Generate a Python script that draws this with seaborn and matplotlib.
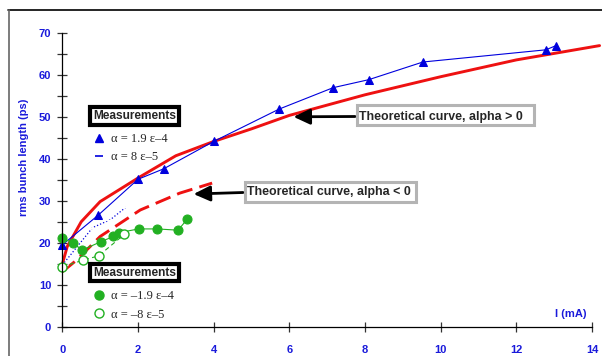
import matplotlib
matplotlib.use("Agg")
import matplotlib.pyplot as plt
from matplotlib.lines import Line2D
from matplotlib.patches import Rectangle
import seaborn as sns
import numpy as np

# ---- data ----
blue_tri_x = [0.0, 0.94, 2.0, 2.68, 4.0, 5.73, 7.16, 8.1, 9.53, 12.78, 13.05]
blue_tri_y = [19.6, 26.6, 35.2, 37.7, 44.2, 51.9, 57.0, 58.9, 63.1, 66.0, 67.0]

blue_dash_x = [0.0, 0.8, 1.27, 1.7]
blue_dash_y = [14.8, 23.7, 25.6, 28.7]

green_fill_x = [0.0, 0.28, 0.53, 1.03, 1.35, 1.49, 2.02, 2.5, 3.06, 3.3]
green_fill_y = [21.3, 20.0, 18.4, 20.4, 21.6, 22.5, 23.4, 23.4, 23.1, 25.7]

green_open_x = [0.0, 0.56, 0.96, 1.64]
green_open_y = [14.4, 16.0, 17.0, 22.1]

theory_pos_x = [0.0, 0.13, 0.5, 1.0, 2.0, 3.0, 4.0, 5.0, 6.0, 8.0, 10.0, 12.0, 14.2]
theory_pos_y = [15.0, 19.2, 25.1, 29.9, 35.5, 40.8, 44.2, 47.2, 50.4, 55.3, 59.6, 63.6, 67.0]

theory_neg_x = [0.0, 0.38, 1.0, 2.06, 3.1, 3.96]
theory_neg_y = [13.2, 16.0, 21.6, 27.9, 31.9, 34.3]

x_ticks = [0, 2, 4, 6, 8, 10, 12, 14]
y_ticks = [0, 10, 20, 30, 40, 50, 60, 70]

labels_pos = ["\u03b1 = 1.9 \u03b5\u20134", "\u03b1 = 8 \u03b5\u20135"]
labels_neg = ["\u03b1 = \u20131.9 \u03b5\u20134", "\u03b1 = \u20138 \u03b5\u20135"]
legend_title = "Measurements"
note_pos = "Theoretical curve, alpha > 0"
note_neg = "Theoretical curve, alpha < 0"

BLUE = "#0000dd"
RED = "#ee1111"
GREEN = "#22b022"
LBLUE = "#1a1adb"

sns.set_style("white")
plt.rcParams["font.family"] = ["Liberation Sans", "DejaVu Sans"]

W, H = 602, 356
fig = plt.figure(figsize=(W / 100, H / 100), dpi=100)
x0, x1 = 62.3, 592.0
y0, y1 = 327.3, 33.0
ax = fig.add_axes([x0 / W, 1 - y0 / H, (x1 - x0) / W, (y0 - y1) / H])


def fx(px):
    return px / W


def fy(py):
    return 1 - py / H


# theoretical curves
sns.lineplot(x=theory_pos_x, y=theory_pos_y, ax=ax, color=RED, lw=2.1,
             estimator=None, sort=False, clip_on=False)
sns.lineplot(x=theory_neg_x, y=theory_neg_y, ax=ax, color=RED, lw=2.1,
             estimator=None, sort=False, clip_on=False)
ax.lines[-1].set_dashes((5.5, 2.5))

# measurements
sns.lineplot(x=blue_tri_x, y=blue_tri_y, ax=ax, color=BLUE, lw=0.8,
             marker="^", markersize=5.8, markeredgecolor=BLUE,
             estimator=None, sort=False, clip_on=False)
sns.lineplot(x=blue_dash_x, y=blue_dash_y, ax=ax, color=BLUE, lw=0.9,
             marker="_", markersize=8, markeredgewidth=1.0,
             estimator=None, sort=False, clip_on=False)
ax.lines[-1].set_linestyle(":")
sns.lineplot(x=green_fill_x, y=green_fill_y, ax=ax, color=GREEN, lw=0.8,
             marker="o", markersize=6.5, markeredgecolor=GREEN,
             estimator=None, sort=False, clip_on=False)
sns.lineplot(x=green_open_x, y=green_open_y, ax=ax, color=GREEN, lw=0.8,
             marker="o", markersize=6.5, markeredgecolor=GREEN,
             markerfacecolor="white", markeredgewidth=1.0,
             estimator=None, sort=False, clip_on=False)
ax.lines[-1].set_dashes((4, 3))

ax.set_xlim(0, 14)
ax.set_ylim(0, 70)
for s in ["top", "right"]:
    ax.spines[s].set_visible(False)
for s in ["left", "bottom"]:
    ax.spines[s].set_color("black")
    ax.spines[s].set_linewidth(0.9)

ax.set_xticks(x_ticks)
ax.set_yticks(y_ticks)
ax.set_yticks(np.arange(5, 70, 10), minor=True)
ax.tick_params(axis="both", which="both", direction="inout", color="#333333",
               width=0.9, labelcolor=LBLUE, labelsize=8, bottom=True, left=True)
ax.tick_params(axis="both", which="major", length=7)
ax.tick_params(axis="y", which="minor", length=7)
ax.tick_params(axis="x", pad=9)
ax.tick_params(axis="y", pad=4.5)
for t in ax.get_xticklabels() + ax.get_yticklabels():
    t.set_fontweight("bold")

ax.set_ylabel("rms bunch length (ps)", color=LBLUE, fontsize=8, fontweight="bold")
ax.yaxis.set_label_coords(-0.063, 0.576)
ax.set_xlabel("I (mA)", color=LBLUE, fontsize=8, fontweight="bold")
ax.xaxis.set_label_coords(0.96, 0.045)
ax.xaxis.label.set_va("center")

# legends
title_box = dict(facecolor="white", edgecolor="black", linewidth=3,
                 boxstyle="square,pad=0.25")
leg_kw = dict(frameon=False, loc="center left", bbox_transform=fig.transFigure,
              prop={"family": "Liberation Serif", "size": 9},
              handlelength=0.8, handletextpad=0.55, labelspacing=0.5,
              borderaxespad=0, borderpad=0)

h_pos = [Line2D([], [], ls="none", marker="^", color=BLUE, markersize=6),
         Line2D([], [], ls="none", marker="_", color=BLUE, markersize=6, markeredgewidth=1.2)]
leg1 = ax.legend(h_pos, labels_pos, bbox_to_anchor=(fx(94), fy(148)), **leg_kw)
ax.add_artist(leg1)

h_neg = [Line2D([], [], ls="none", marker="o", color=GREEN, markersize=6.5),
         Line2D([], [], ls="none", marker="o", color=GREEN, markerfacecolor="white",
                markersize=6.5, markeredgewidth=1.0)]
leg2 = ax.legend(h_neg, labels_neg, bbox_to_anchor=(fx(94), fy(305.5)), **leg_kw)

for ty in (116, 272.5):
    fig.text(fx(93), fy(ty), legend_title, ha="left", va="center", fontsize=8.6,
             fontweight="bold", bbox=title_box)

# annotations: gray boxes, text, arrows
for (bx0, bx1, by0, by1) in [(355, 535, 104, 127), (243, 417, 180, 203)]:
    fig.add_artist(Rectangle((fx(bx0 + 1.5), fy(by1 - 1.5)), (bx1 - bx0 - 3) / W,
                             (by1 - by0 - 3) / H, transform=fig.transFigure,
                             facecolor="white", edgecolor="#b4b4b4", linewidth=2.2,
                             zorder=5))
fig.text(fx(359), fy(116.5), note_pos, ha="left", va="center", fontsize=8.9,
         fontweight="bold", zorder=6)
fig.text(fx(247), fy(192), note_neg, ha="left", va="center", fontsize=8.9,
         fontweight="bold", zorder=6)

arrow = dict(arrowstyle="-|>,head_length=1.0,head_width=0.47", color="black",
             lw=2.0, shrinkA=0, shrinkB=0, mutation_scale=10)
ax.annotate("", xy=(6.11, 50.07), xytext=(355, H - 116.5), textcoords="figure pixels",
            arrowprops=arrow, annotation_clip=False)
ax.annotate("", xy=(3.47, 31.7), xytext=(243, H - 192.5), textcoords="figure pixels",
            arrowprops=arrow, annotation_clip=False)

# figure frame
fig.add_artist(Line2D([fx(8), 1], [fy(10), fy(10)], color="black", lw=1.2,
                      transform=fig.transFigure))
fig.add_artist(Line2D([fx(9), fx(9)], [0, fy(10)], color="#666666", lw=1.2,
                      transform=fig.transFigure))

fig.savefig("out.png", dpi=100)
